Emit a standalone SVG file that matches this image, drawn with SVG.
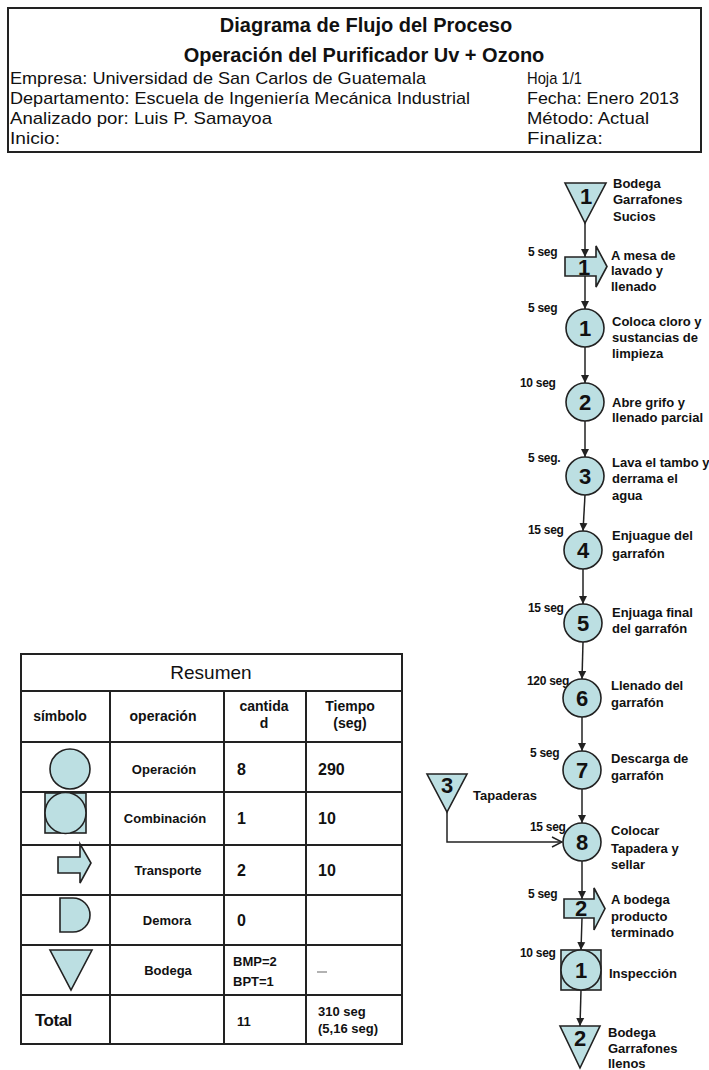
<svg xmlns="http://www.w3.org/2000/svg" width="709" height="1070" viewBox="0 0 709 1070">
  <defs>
    <style>
      .hdr { font-family: "Liberation Sans", Arial, sans-serif; fill: #111; }
      .ttl { font-size: 20px; font-weight: bold; text-anchor: middle; }
      .info { font-size: 17px; }
      .shape { fill: #bcdfe2; stroke: #222; stroke-width: 1.6; }
      .num { font-family: "Liberation Sans", Arial, sans-serif; font-size: 22px; font-weight: bold; fill: #111; text-anchor: middle; }
      .lbl { font-family: "Liberation Sans", Arial, sans-serif; font-size: 13px; font-weight: bold; fill: #111; }
      .time { font-family: "Liberation Sans", Arial, sans-serif; font-size: 12px; font-weight: bold; fill: #111; letter-spacing: -0.3px; }
      .conn { fill: none; stroke: #222; stroke-width: 1.5; }
      .grid { fill: none; stroke: #222; stroke-width: 2; }
      .th { font-family: "Liberation Sans", Arial, sans-serif; font-size: 14px; font-weight: bold; fill: #111; text-anchor: middle; }
      .td { font-family: "Liberation Sans", Arial, sans-serif; font-size: 13px; font-weight: bold; fill: #111; text-anchor: middle; }
      .val { font-family: "Liberation Sans", Arial, sans-serif; font-size: 16px; font-weight: bold; fill: #111; }
      .val2 { font-family: "Liberation Sans", Arial, sans-serif; font-size: 13px; font-weight: bold; fill: #111; }
    </style>
    <marker id="arr" viewBox="0 0 10 10" refX="10" refY="5" markerWidth="8" markerHeight="9" markerUnits="userSpaceOnUse" orient="auto">
      <path d="M0,0 L10,5 L0,10 Z" fill="#222"/>
    </marker>
    <marker id="open" viewBox="0 0 12 12" refX="11" refY="6" markerWidth="12" markerHeight="12" markerUnits="userSpaceOnUse" orient="auto">
      <path d="M1,1 L11,6 L1,11" fill="none" stroke="#222" stroke-width="1.5"/>
    </marker>
  </defs>

  <rect width="709" height="1070" fill="#ffffff"/>

  <!-- Header block -->
  <g id="header" class="hdr">
    <rect x="8" y="8" width="693" height="144" fill="none" stroke="#222" stroke-width="2"/>
    <text class="ttl" x="366" y="32">Diagrama de Flujo del Proceso</text>
    <text class="ttl" x="364" y="62">Operación del Purificador Uv + Ozono</text>
    <text class="info" x="10" y="84" textLength="416" lengthAdjust="spacingAndGlyphs">Empresa: Universidad de San Carlos de Guatemala</text>
    <text class="info" x="10" y="104" textLength="460" lengthAdjust="spacingAndGlyphs">Departamento: Escuela de Ingeniería Mecánica Industrial</text>
    <text class="info" x="10" y="124" textLength="262" lengthAdjust="spacingAndGlyphs">Analizado por: Luis P. Samayoa</text>
    <text class="info" x="10" y="144" textLength="50" lengthAdjust="spacingAndGlyphs">Inicio:</text>
    <text class="info" x="527" y="84" textLength="55" lengthAdjust="spacingAndGlyphs">Hoja 1/1</text>
    <text class="info" x="527" y="104" textLength="152" lengthAdjust="spacingAndGlyphs">Fecha: Enero 2013</text>
    <text class="info" x="527" y="124" textLength="122" lengthAdjust="spacingAndGlyphs">Método: Actual</text>
    <text class="info" x="527" y="144" textLength="76" lengthAdjust="spacingAndGlyphs">Finaliza:</text>
  </g>

  <!-- Connectors -->
  <g id="connectors">
    <line class="conn" x1="585" y1="223" x2="585" y2="257" marker-end="url(#arr)"/>
    <line class="conn" x1="585" y1="276" x2="585" y2="309" marker-end="url(#arr)"/>
    <line class="conn" x1="585" y1="347" x2="585" y2="383" marker-end="url(#arr)"/>
    <line class="conn" x1="585" y1="421" x2="585" y2="457" marker-end="url(#arr)"/>
    <line class="conn" x1="585" y1="495" x2="583" y2="531" marker-end="url(#arr)"/>
    <line class="conn" x1="583" y1="569" x2="583" y2="604" marker-end="url(#arr)"/>
    <line class="conn" x1="583" y1="642" x2="582" y2="679" marker-end="url(#arr)"/>
    <line class="conn" x1="582" y1="717" x2="582" y2="751" marker-end="url(#arr)"/>
    <line class="conn" x1="582" y1="789" x2="582" y2="823" marker-end="url(#arr)"/>
    <line class="conn" x1="582" y1="861" x2="582" y2="899" marker-end="url(#arr)"/>
    <line class="conn" x1="582" y1="918" x2="581" y2="950" marker-end="url(#arr)"/>
    <line class="conn" x1="581" y1="990" x2="580" y2="1026" marker-end="url(#arr)"/>
    <polyline class="conn" points="447,812 447,842 562,842" marker-end="url(#open)"/>
  </g>

  <!-- Flow nodes -->
  <g id="bodega1">
    <polygon class="shape" points="565,183 606,183 585,223"/>
    <text class="num" x="586" y="204">1</text>
    <text class="lbl" x="613" y="188">Bodega</text>
    <text class="lbl" x="613" y="204">Garrafones</text>
    <text class="lbl" x="613" y="221">Sucios</text>
  </g>
  <g id="transporte1">
    <polygon class="shape" points="565,257 596,257 596,246 607,266.5 596,287 596,276 565,276"/>
    <text class="num" x="584" y="275">1</text>
    <text class="time" x="528" y="256">5 seg</text>
    <text class="lbl" x="611" y="260">A mesa de</text>
    <text class="lbl" x="611" y="275">lavado y</text>
    <text class="lbl" x="611" y="291">llenado</text>
  </g>
  <g id="op1">
    <circle class="shape" cx="585" cy="328" r="19"/>
    <text class="num" x="585" y="336">1</text>
    <text class="time" x="528" y="312">5 seg</text>
    <text class="lbl" x="612" y="326">Coloca cloro y</text>
    <text class="lbl" x="612" y="342">sustancias de</text>
    <text class="lbl" x="612" y="358">limpieza</text>
  </g>
  <g id="op2">
    <circle class="shape" cx="585" cy="402" r="19"/>
    <text class="num" x="585" y="410">2</text>
    <text class="time" x="520" y="387">10 seg</text>
    <text class="lbl" x="612" y="407">Abre grifo y</text>
    <text class="lbl" x="612" y="422">llenado parcial</text>
  </g>
  <g id="op3">
    <circle class="shape" cx="585" cy="476" r="19"/>
    <text class="num" x="585" y="484">3</text>
    <text class="time" x="528" y="462">5 seg.</text>
    <text class="lbl" x="612" y="467">Lava el tambo y</text>
    <text class="lbl" x="612" y="483">derrama el</text>
    <text class="lbl" x="612" y="500">agua</text>
  </g>
  <g id="op4">
    <circle class="shape" cx="583" cy="550" r="19"/>
    <text class="num" x="583" y="558">4</text>
    <text class="time" x="528" y="534">15 seg</text>
    <text class="lbl" x="612" y="540">Enjuague del</text>
    <text class="lbl" x="612" y="558">garrafón</text>
  </g>
  <g id="op5">
    <circle class="shape" cx="583" cy="623" r="19"/>
    <text class="num" x="583" y="631">5</text>
    <text class="time" x="528" y="612">15 seg</text>
    <text class="lbl" x="612" y="617">Enjuaga final</text>
    <text class="lbl" x="612" y="633">del garrafón</text>
  </g>
  <g id="op6">
    <text class="time" x="527" y="685">120 seg</text>
    <circle class="shape" cx="582" cy="698" r="19"/>
    <text class="num" x="582" y="706">6</text>
    <text class="lbl" x="611" y="690">Llenado del</text>
    <text class="lbl" x="611" y="707">garrafón</text>
  </g>
  <g id="op7">
    <circle class="shape" cx="582" cy="770" r="19"/>
    <text class="num" x="582" y="778">7</text>
    <text class="time" x="530" y="757">5 seg</text>
    <text class="lbl" x="611" y="763">Descarga de</text>
    <text class="lbl" x="611" y="780">garrafón</text>
  </g>
  <g id="bodega3">
    <polygon class="shape" points="427,774 467,774 447,812"/>
    <text class="num" x="447" y="793">3</text>
    <text class="lbl" x="473" y="800">Tapaderas</text>
  </g>
  <g id="op8">
    <circle class="shape" cx="582" cy="842" r="19"/>
    <text class="num" x="582" y="850">8</text>
    <text class="time" x="530" y="831">15 seg</text>
    <text class="lbl" x="611" y="835">Colocar</text>
    <text class="lbl" x="611" y="853">Tapadera y</text>
    <text class="lbl" x="611" y="869">sellar</text>
  </g>
  <g id="transporte2">
    <polygon class="shape" points="564,899 594,899 594,888 605,908.5 594,930 594,918 564,918"/>
    <text class="num" x="581" y="916">2</text>
    <text class="time" x="528" y="898">5 seg</text>
    <text class="lbl" x="611" y="904">A bodega</text>
    <text class="lbl" x="611" y="921">producto</text>
    <text class="lbl" x="611" y="937">terminado</text>
  </g>
  <g id="combinada1">
    <rect class="shape" x="561" y="950" width="40" height="40"/>
    <circle class="shape" cx="581" cy="970" r="20"/>
    <text class="num" x="581" y="978">1</text>
    <text class="time" x="520" y="957">10 seg</text>
    <text class="lbl" x="609" y="978">Inspección</text>
  </g>
  <g id="bodega2">
    <polygon class="shape" points="560,1026 600,1026 580,1068"/>
    <text class="num" x="580" y="1046">2</text>
    <text class="lbl" x="608" y="1037">Bodega</text>
    <text class="lbl" x="608" y="1053">Garrafones</text>
    <text class="lbl" x="608" y="1068">llenos</text>
  </g>

  <!-- Summary table -->
  <g id="resumen">
    <rect class="grid" x="21" y="654" width="381" height="390"/>
    <line class="grid" x1="21" y1="691" x2="402" y2="691"/>
    <line class="grid" x1="21" y1="742" x2="402" y2="742"/>
    <line class="grid" x1="21" y1="792" x2="402" y2="792"/>
    <line class="grid" x1="21" y1="845" x2="402" y2="845"/>
    <line class="grid" x1="21" y1="895" x2="402" y2="895"/>
    <line class="grid" x1="21" y1="945" x2="402" y2="945"/>
    <line class="grid" x1="21" y1="995" x2="402" y2="995"/>
    <line class="grid" x1="110" y1="691" x2="110" y2="1044"/>
    <line class="grid" x1="224" y1="691" x2="224" y2="1044"/>
    <line class="grid" x1="306" y1="691" x2="306" y2="1044"/>

    <text x="211" y="679" font-family="Liberation Sans, Arial, sans-serif" font-size="19" fill="#111" text-anchor="middle">Resumen</text>
    <text class="th" x="60" y="721">símbolo</text>
    <text class="th" x="163" y="721">operación</text>
    <text class="th" x="264" y="711">cantida</text>
    <text class="th" x="264" y="728">d</text>
    <text class="th" x="350" y="711">Tiempo</text>
    <text class="th" x="350" y="728">(seg)</text>

    <!-- Operación -->
    <circle class="shape" cx="70" cy="769" r="20"/>
    <text class="td" x="164" y="774">Operación</text>
    <text class="val" x="237" y="775">8</text>
    <text class="val" x="318" y="775">290</text>

    <!-- Combinación -->
    <rect class="shape" x="45" y="793" width="41" height="40"/>
    <circle class="shape" cx="65.5" cy="813" r="20.5"/>
    <text class="td" x="165" y="823">Combinación</text>
    <text class="val" x="237" y="824">1</text>
    <text class="val" x="318" y="824">10</text>

    <!-- Transporte -->
    <polygon class="shape" points="58,857 80,857 80,844 91,863 80,883 80,873 58,873"/>
    <text class="td" x="168" y="875">Transporte</text>
    <text class="val" x="237" y="876">2</text>
    <text class="val" x="318" y="876">10</text>

    <!-- Demora -->
    <path class="shape" d="M60,898 L73,898 A17,17 0 0 1 73,932 L60,932 Z"/>
    <text class="td" x="167" y="925">Demora</text>
    <text class="val" x="237" y="926">0</text>

    <!-- Bodega -->
    <polygon class="shape" points="50,950 92,950 71,990"/>
    <text class="td" x="168" y="975">Bodega</text>
    <text class="val2" x="233" y="966">BMP=2</text>
    <text class="val2" x="233" y="986">BPT=1</text>
    <line x1="317" y1="972" x2="327" y2="972" stroke="#999" stroke-width="1.5"/>

    <!-- Total -->
    <text x="35" y="1026" font-family="Liberation Sans, Arial, sans-serif" font-size="17" font-weight="bold" fill="#111" letter-spacing="-0.5">Total</text>
    <text class="val2" x="237" y="1026">11</text>
    <text class="val2" x="318" y="1016">310 seg</text>
    <text class="val2" x="318" y="1033">(5,16 seg)</text>
  </g>
</svg>
